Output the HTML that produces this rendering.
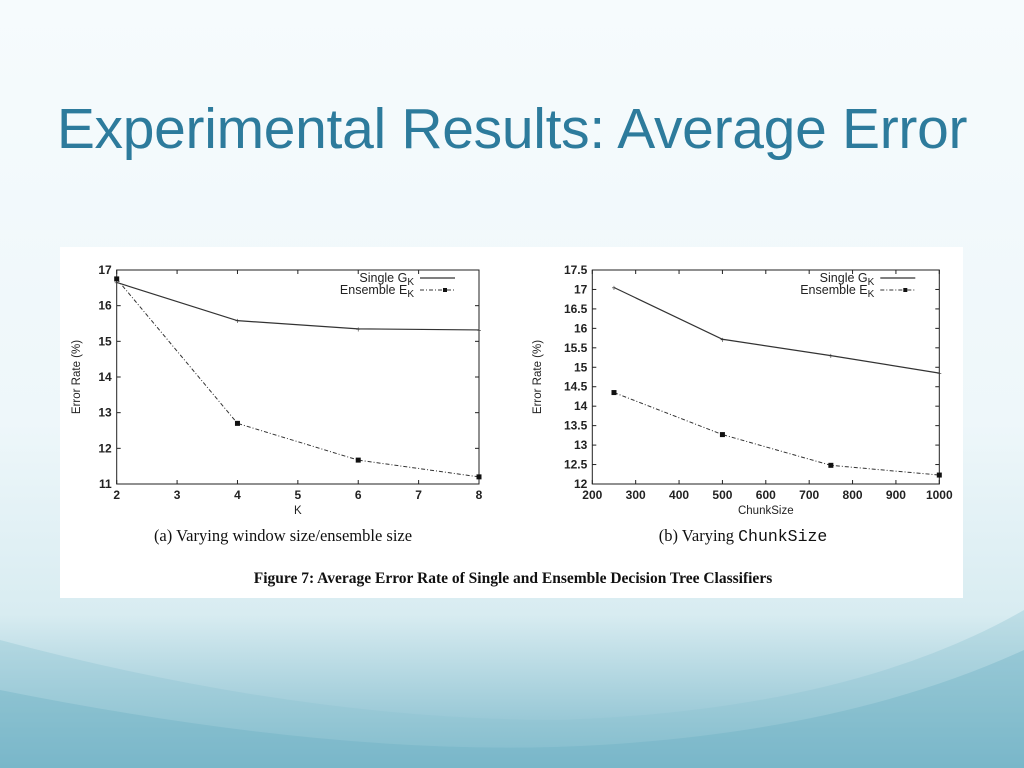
<!DOCTYPE html>
<html><head><meta charset="utf-8"><style>
body{margin:0;width:1024px;height:768px;overflow:hidden;font-family:"Liberation Sans",sans-serif;}
#bg{position:absolute;left:0;top:0}
h1{position:absolute;left:0;width:1024px;top:96px;margin:0;text-align:center;font-weight:normal;font-size:57px;color:#2d7b9c;font-family:"Liberation Sans",sans-serif;letter-spacing:-0.3px}
#panel{position:absolute;left:60px;top:247px;width:903px;height:351px;background:#fff}
#charts{position:absolute;left:0;top:0}
</style></head><body>
<svg id="bg" width="1024" height="768">
<defs>
<linearGradient id="g" x1="0" y1="0" x2="0" y2="1">
<stop offset="0" stop-color="#f6fbfd"/><stop offset="0.55" stop-color="#eef7fa"/><stop offset="0.8" stop-color="#d8ecf1"/><stop offset="1" stop-color="#7cb8ca"/></linearGradient>
</defs>
<rect width="1024" height="768" fill="url(#g)"/>
<path d="M0 640 Q300 720 560 720 Q850 710 1024 610 L1024 768 L0 768Z" fill="#8cc2d2" opacity="0.35"/>
<path d="M0 690 Q350 760 600 745 Q850 730 1024 650 L1024 768 L0 768Z" fill="#6aaec2" opacity="0.35"/>
</svg>
<h1>Experimental Results: Average Error</h1>
<div id="panel"></div>
<svg id="charts" width="1024" height="768"></svg>
<script>
const leftCats=[2,4,6,8];
const leftSingle=[16.65,15.58,15.35,15.32];
const leftEnsemble=[16.75,12.7,11.67,11.2];
const leftXTicks=[2,3,4,5,6,7,8];
const leftYTicks=[11,12,13,14,15,16,17];
const rightCats=[250,500,750,1000];
const rightSingle=[17.05,15.72,15.3,14.85];
const rightEnsemble=[14.35,13.27,12.48,12.23];
const rightXTicks=[200,300,400,500,600,700,800,900,1000];
const rightYTicks=[12,12.5,13,13.5,14,14.5,15,15.5,16,16.5,17,17.5];
const NS="http://www.w3.org/2000/svg";
const svg=document.getElementById('charts');
function mk(t,a,p){const e=document.createElementNS(NS,t);for(const k in a)e.setAttribute(k,a[k]);(p||svg).appendChild(e);return e;}
function chart(o){
  const g=mk('g',{});
  
  
  const X=v=>o.x0+(v-o.xmin)/(o.xmax-o.xmin)*(o.x1-o.x0);
  const Y=v=>o.y1-(v-o.ymin)/(o.ymax-o.ymin)*(o.y1-o.y0);
  mk('rect',{x:o.x0,y:o.y0,width:o.x1-o.x0,height:o.y1-o.y0,fill:'none',stroke:'#222','stroke-width':1},g);
  o.xt.forEach(v=>{
    mk('line',{x1:X(v),x2:X(v),y1:o.y1,y2:o.y1-4,stroke:'#222'},g);
    mk('line',{x1:X(v),x2:X(v),y1:o.y0,y2:o.y0+4,stroke:'#222'},g);
    const t=mk('text',{x:X(v),y:o.y1+15,'text-anchor':'middle','font-size':12,'font-weight':'bold',fill:'#222'},g);t.textContent=v;
    
    
  });
  o.yt.forEach(v=>{
    mk('line',{x1:o.x0,x2:o.x0+4,y1:Y(v),y2:Y(v),stroke:'#222'},g);
    mk('line',{x1:o.x1,x2:o.x1-4,y1:Y(v),y2:Y(v),stroke:'#222'},g);
    const t=mk('text',{x:o.x0-5,y:Y(v)+4,'text-anchor':'end','font-size':12,'font-weight':'bold',fill:'#222'},g);t.textContent=v;
    
    
  });
  const xl=mk('text',{x:(o.x0+o.x1)/2,y:o.y1+30,'text-anchor':'middle','font-size':11.5,fill:'#222'},g);xl.textContent=o.xlabel;
  
  
  const yl=mk('text',{x:0,y:0,transform:`translate(${o.ylx},${(o.y0+o.y1)/2}) rotate(-90)`,'text-anchor':'middle','font-size':11.5,fill:'#222'},g);yl.textContent='Error Rate (%)';
  
  
  const s=mk('polyline',{points:o.cats.map((c,i)=>X(c)+','+Y(o.single[i])).join(' '),fill:'none',stroke:'#333','stroke-width':1.2},g);
  
  
  o.cats.forEach((c,i)=>{const p=mk('text',{x:X(c),y:Y(o.single[i])+3,'text-anchor':'middle','font-size':8,fill:'#333'},g);p.textContent='+';
    
    });
  const e=mk('polyline',{points:o.cats.map((c,i)=>X(c)+','+Y(o.ens[i])).join(' '),fill:'none',stroke:'#333','stroke-width':1,'stroke-dasharray':'4,2,1,2'},g);
  
  
  o.cats.forEach((c,i)=>{const p=mk('rect',{x:X(c)-2.5,y:Y(o.ens[i])-2.5,width:5,height:5,fill:'#111'},g);
    
    });
  const lx=o.x1-59;
  const t1=mk('text',{x:lx-6,y:o.y0+12,'text-anchor':'end','font-size':12.5,fill:'#222'},g);
  t1.innerHTML='Single G<tspan font-size="10" dy="3">K</tspan>';
  
  
  mk('line',{x1:lx,x2:lx+35,y1:o.y0+8,y2:o.y0+8,stroke:'#333','stroke-width':1.2},g);
  const t2=mk('text',{x:lx-6,y:o.y0+24,'text-anchor':'end','font-size':12.5,fill:'#222'},g);
  t2.innerHTML='Ensemble E<tspan font-size="10" dy="3">K</tspan>';
  
  
  mk('line',{x1:lx,x2:lx+35,y1:o.y0+20,y2:o.y0+20,stroke:'#333','stroke-dasharray':'4,2,1,2'},g);
  mk('rect',{x:lx+23,y:o.y0+18,width:4,height:4,fill:'#111'},g);
}
chart({name:'chart-window-size',x0:116.7,x1:479,y0:270,y1:484,xmin:2,xmax:8,ymin:11,ymax:17,xt:leftXTicks,yt:leftYTicks,cats:leftCats,single:leftSingle,ens:leftEnsemble,xlabel:'K',ylx:80});
chart({name:'chart-chunk-size',x0:592.3,x1:939.3,y0:270,y1:484,xmin:200,xmax:1000,ymin:12,ymax:17.5,xt:rightXTicks,yt:rightYTicks,cats:rightCats,single:rightSingle,ens:rightEnsemble,xlabel:'ChunkSize',ylx:541});
function txt(x,y,html,attrs,name){const t=mk('text',Object.assign({x:x,y:y,'text-anchor':'middle',fill:'#111'},attrs));t.innerHTML=html;
  
  }
txt(283,541,'(a) Varying window size/ensemble size',{'font-size':16.5,'font-family':'Liberation Serif, serif'},'caption-a');
txt(743,541,'(b) Varying <tspan font-family="Liberation Mono, monospace">ChunkSize</tspan>',{'font-size':16.5,'font-family':'Liberation Serif, serif'},'caption-b');
txt(513,583,'Figure 7:  Average Error Rate of Single and Ensemble Decision Tree Classifiers',{'font-size':15.5,'font-weight':'bold','font-family':'Liberation Serif, serif'},'figure-caption');
</script>
</body></html>
